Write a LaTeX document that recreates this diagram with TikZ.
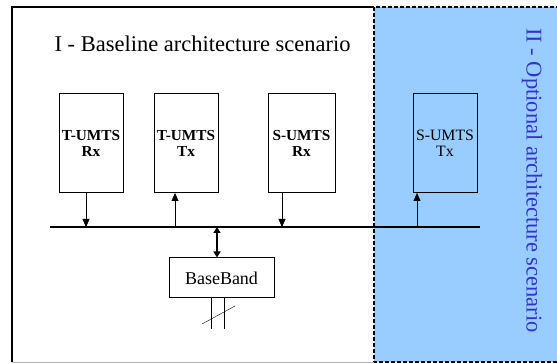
\documentclass[tikz,border=0pt]{standalone}
\usepackage{fontspec}
\setmainfont{Liberation Serif}
\usepackage{xcolor}
\usetikzlibrary{arrows.meta}
\definecolor{optblue}{RGB}{153,204,255}
\definecolor{opttext}{RGB}{51,51,204}

\begin{document}
\begin{tikzpicture}[x=1pt,y=-1pt,
  unit/.style={draw,line width=1pt,minimum width=64pt,minimum height=99pt,
    align=center,inner sep=1pt,font=\fontsize{15.3}{16}\selectfont\bfseries},
  >={Triangle[length=8pt,width=7pt]}]
  \useasboundingbox (0,0) rectangle (557,363);
  % optional part
  \fill[optblue] (374,7) rectangle (560,362);
  \draw[line width=1.2pt,dash pattern=on 4pt off 2pt] (560,7) -- (374,7) -- (374,362) -- (560,362);
  % outer frame
  \draw[line width=1.5pt] (374,7) -- (12,7) -- (12,362);
  \draw[gray!60,line width=1pt] (12,362) -- (374,362);
  \node[anchor=base west,font=\fontsize{22.5}{26}\selectfont] (base) at (51,52) {I - Baseline architecture scenario};
  \node[rotate=-90,text=opttext,font=\fontsize{22.5}{26}\selectfont] (opt) at (532,180.5) {II - Optional architecture scenario};
  % units
  \node[unit] (trx) at (91,143) {T-UMTS\\Rx};
  \node[unit] (ttx) at (186,143) {T-UMTS\\Tx};
  \node[unit,minimum width=67pt] (srx) at (301.5,143) {S-UMTS\\Rx};
  \node[unit,font=\fontsize{15.8}{16}\selectfont] (stx) at (445,143) {S-UMTS\\Tx};
  % bus
  \coordinate (busl) at (50,227);
  \coordinate (busr) at (480,227);
  \draw[line width=2pt] (busl) -- (busr);
  \coordinate (b1) at (86,227);
  \coordinate (b2) at (175,227);
  \coordinate (b3) at (282,227);
  \coordinate (b4) at (417,227);
  \coordinate (b5) at (217,227);
  \draw[->] (trx.south -| b1) -- (b1);
  \draw[->] (b2) -- (ttx.south -| b2);
  \draw[->] (srx.south -| b3) -- (b3);
  \draw[->] (b4) -- (stx.south -| b4);
  % baseband
  \node[draw,line width=1pt,minimum width=105pt,minimum height=40pt,font=\fontsize{18}{21}\selectfont] (bb) at (221.5,278) {BaseBand};
  \draw[{Triangle[length=6pt,width=7pt]}-{Triangle[length=6pt,width=7pt]},line width=1.5pt] (b5) -- (bb.north -| b5);
  \coordinate (o1) at (211,329);
  \coordinate (o2) at (224,329);
  \draw (bb.south -| o1) -- (o1);
  \draw (bb.south -| o2) -- (o2);
  \coordinate (s1) at (202,324);
  \coordinate (s2) at (235,306);
  \draw (s1) -- (s2);
\end{tikzpicture}
\end{document}
